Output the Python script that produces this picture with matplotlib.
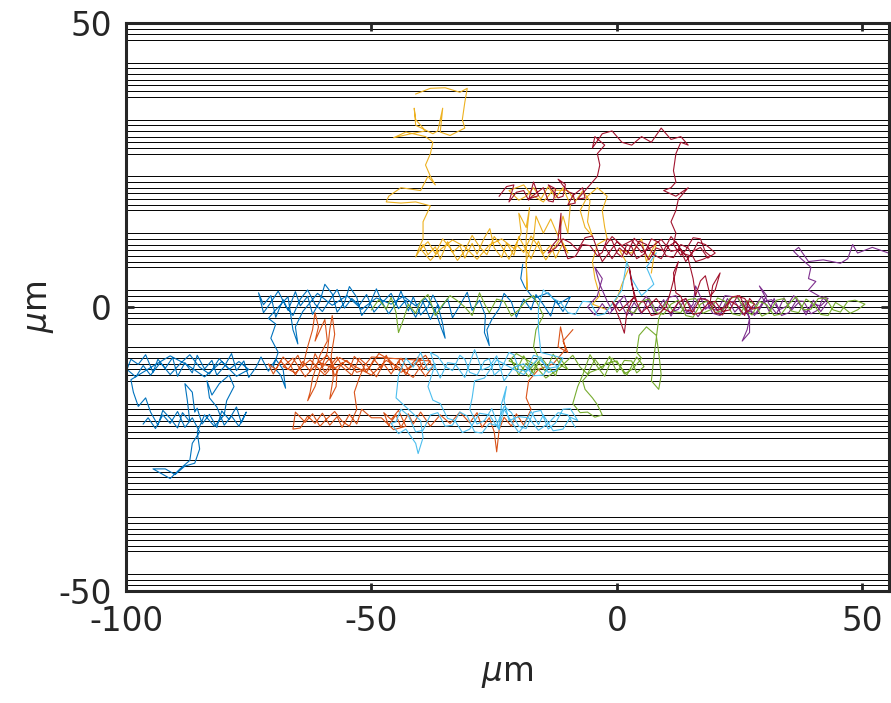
import numpy as np
import matplotlib
matplotlib.use('Agg')
import matplotlib.pyplot as plt

#%% ------------------------------------------------
#  Data (micrometres)

# horizontal guide lines: groups of 7 lines around every 10 um
line_centers = [-50, -40, -30, -20, -10, 0, 10, 20, 30, 40, 50]
line_offsets = [-3, -2, -1, 0, 1, 2, 3]

x_ticks = [-100, -50, 0, 50]
y_ticks = [-50, 0, 50]

blue_path = [
    (-19.2, 7.5), (-19.6, 5), (-18.8, 3.5), (-17, 1.5), (-14, 2.5), (-12, 0.5), (-9.5, 1.8),
    (-11, -0.8), (-12.5, 1.2), (-13.5, -1.6), (-15, 0.4), (-16.5, 2.2), (-17.5, -0.5),
    (-19, 1.4), (-20.5, -1.8), (-21.5, 0.9), (-23, 2.4), (-24, -0.3), (-25.5, -2.2),
    (-26.5, -4), (-26, -6.8), (-27, -4.5), (-26.8, -1.5), (-28, 1.2), (-29.5, -0.6),
    (-30.5, 2.6), (-32, 0.3), (-33.5, -1.9), (-34.5, 1.5), (-36, -0.4), (-37.5, 2.1),
    (-38.5, 0), (-40, -1.4), (-41.5, 1.8), (-42.5, -0.7), (-44, 2.8), (-45, 0.6),
    (-46.5, -1.2), (-48, 1.1), (-49, 3.2), (-50.5, 0.2), (-52, -1.5), (-53, 1.7),
    (-54.5, 3.6), (-55.5, 0.8), (-57, -0.9), (-58, 2.3), (-59.5, 4), (-60.5, 1),
    (-62, -1.3), (-63, 1.9), (-64.5, 0.2), (-65.5, 2.7), (-67, -0.6), (-68, 1.3),
    (-69.5, -1.8), (-70.5, 2), (-72, 0.4), (-73, 2.5), (-72, -1), (-70.5, 0.8), (-69, 2.8),
    (-67.5, 0.2), (-66, -1.5), (-64.5, 1.4), (-63, 3), (-61.5, 0.5), (-60, -0.8),
    (-58.5, 1.2), (-57, 3.1), (-55.5, -0.2), (-54, 1.5), (-52.5, 0.3), (-51, 2.2),
    (-49.5, -0.9), (-48, 0.6), (-46, 2.4), (-44.5, -0.3), (-43, 1.2), (-41, -1.8),
    (-39.5, 0.9), (-38, -2.2), (-36.5, 0.4), (-35.5, -3), (-35, -5.5), (-36, -3.2),
    (-37, -0.6), (-39, 1.5), (-41, 0.2), (-43.5, 1.9), (-46, 0.5), (-49, 1.6), (-52, -0.4),
    (-55, 2), (-58, 0.3), (-61, 2.4), (-64, -0.8), (-65.5, -3.5), (-65, -6.5), (-66, -4),
    (-67, 1.8), (-69.5, -0.5),
    (-71, -2), (-69.5, -3), (-70.5, -5.5), (-69, -8), (-70, -10.5), (-68.5, -12),
    (-67.5, -14.3), (-68, -11), (-69.5, -9.2), (-71, -11.3), (-72.5, -8.8), (-73.5, -10.6),
    (-75, -12.4), (-76, -9.5), (-77.5, -11.2), (-78.5, -8.2), (-80, -10.5), (-81.5, -12),
    (-82.5, -9.4), (-84, -10.9), (-85.5, -8.5), (-86.5, -11.6), (-88, -9.8), (-89.5, -12.2),
    (-90.5, -8.9), (-92, -10.8), (-93.5, -9.2), (-94.5, -11.5), (-96, -8.4), (-97.5, -10.1),
    (-99, -9.2), (-99.8, -11), (-98, -12.3), (-96.5, -10.3), (-95, -12), (-93, -9.8),
    (-91, -11.9), (-89, -10), (-87, -8.4), (-85, -10.6), (-83, -11.8), (-81, -9.1),
    (-79, -11), (-77, -9.6), (-75, -11), (-77.5, -12.2), (-80.5, -9.6), (-84, -12.3),
    (-87.5, -10.2), (-91, -8.6), (-94.5, -10.4), (-97.5, -12), (-99, -12.8), (-98.5, -15),
    (-97.5, -17.5), (-96, -16), (-95, -18.5), (-93.5, -20.8), (-92.5, -18.2), (-91, -19.6),
    (-89.5, -21.3), (-88.5, -18.6), (-87, -20.2), (-87.5, -16.5), (-88, -13.5),
    (-86.5, -15), (-86, -18.5), (-85.5, -17.8), (-84.5, -20.6),
    (-83, -18.9), (-81.5, -21.2), (-80.5, -18.3), (-79, -19.8), (-77.5, -17.6),
    (-76.5, -20.4), (-75.5, -18.5), (-77, -21), (-78.5, -19.2), (-80, -20.8), (-81.5, -17.6),
    (-83, -16), (-83.5, -13), (-82.5, -15.5), (-81, -13.5), (-79, -12), (-78, -14),
    (-79.5, -16.5), (-80, -19), (-82, -21), (-84, -19), (-85.5, -22), (-85, -25),
    (-86, -27.5), (-88, -28), (-90, -29.5), (-92, -28.5), (-94.5, -28.5), (-91, -30.2),
    (-89, -28.5), (-87, -27), (-86.5, -24), (-85, -22), (-86.5, -19.5), (-88, -21.2),
    (-89.5, -18.4), (-91, -20.5), (-92.5, -19), (-94, -21.4), (-95.5, -19.5), (-96.5, -20.6),
]

orange_path = [
    (-9, -4), (-11, -6), (-10, -8), (-12, -7), (-11.5, -3.5), (-10.5, -7.5), (-13, -10),
    (-16, -11), (-18, -13), (-18.5, -16), (-17.5, -18), (-19, -20.8), (-20.5, -18.8),
    (-21.5, -21), (-23, -19.4), (-24, -21.6), (-24.5, -25.5), (-25, -22), (-26, -19.5),
    (-27.5, -21.2), (-28.5, -18.6), (-30, -20.4), (-32, -18.5), (-34, -20.5), (-36, -19),
    (-38, -21), (-40, -18.5), (-41.5, -20.6), (-42.5, -18.8), (-44, -21.2), (-45, -19),
    (-46.5, -20.8), (-47.5, -18.6), (-46, -19.8), (-44.5, -18.2), (-43, -21), (-45.5, -21.6),
    (-48, -19.5), (-50, -19.5), (-52, -18), (-53, -20.6), (-54.5, -18.9), (-56, -21.2),
    (-57, -19.3), (-58.5, -20.8), (-60, -18.7), (-61.5, -20.5), (-63, -19.2), (-64.5, -21.3),
    (-66, -21.5), (-65.5, -18.5), (-63.5, -20.3), (-62, -18.8), (-60.5, -21), (-59, -19.6),
    (-57.5, -18.4), (-56, -20.1), (-54.5, -21), (-53, -18), (-53.5, -15), (-52.5, -12.5),
    (-51.5, -10.4), (-50, -8.8),
    (-38, -9.5), (-39.5, -11), (-40.5, -8.8), (-42, -10.2), (-43, -12), (-44.5, -9.5),
    (-45.5, -11.2), (-47, -8.5), (-48, -10.8), (-49.5, -9.2), (-51, -11.5), (-52, -10),
    (-53.5, -8.7), (-54.5, -11), (-56, -9.8), (-57.5, -12.2), (-58.5, -9), (-60, -10.6),
    (-61.5, -8.2), (-62.5, -11.3), (-64, -9.6), (-65.5, -12), (-66.5, -10.2), (-68, -8.8),
    (-69.5, -11), (-71, -10), (-70, -11.8), (-68.5, -9.5), (-67, -11), (-65, -8.5),
    (-64, -10.5), (-63, -7), (-62, -4), (-61.5, -1), (-60.8, -3.5), (-61.5, -6),
    (-59.5, -2.2), (-59, -6), (-60.5, -8.5), (-62, -12.5), (-62.5, -15), (-63, -16.5),
    (-61.5, -14), (-60.5, -11.2), (-59, -8), (-58.5, -4), (-58, -1.5), (-57.5, -4.8),
    (-58.2, -8.5), (-57.8, -12.5), (-58.5, -16.2), (-57.2, -14), (-57, -11),
    (-60.5, -9.8), (-59.5, -11.5), (-57, -8.8), (-56, -10.5),
    (-54, -12), (-52.5, -9), (-51, -10.2), (-49, -12.3), (-47.5, -10), (-46, -11.8),
    (-44, -9), (-42.5, -11), (-41, -9.8), (-39, -12.2), (-37.5, -10.5), (-39, -8.5),
    (-41.5, -10.3), (-44, -11.5), (-46.5, -9.2), (-48.5, -8.2), (-50.5, -10.8), (-53, -11.5),
    (-55, -9.4), (-57.5, -10.8), (-59, -8.5), (-61, -9.9), (-63.5, -12.3), (-66, -9),
    (-68, -10.5), (-65.5, -11.6), (-62.5, -9.3), (-59.5, -12), (-56.5, -8.9), (-53.5, -10.4),
    (-50, -12), (-47, -9.4), (-44.5, -10.6), (-41.5, -12.4), (-39.5, -9.8),
]

yellow_path = [
    (-41, 37.5), (-38, 38.5), (-35, 38.6), (-32, 37.8), (-30.5, 38.5), (-31, 36), (-31.5, 33),
    (-31, 31.5), (-34, 30.2), (-36, 30.8), (-35.5, 35), (-36.5, 31), (-37.5, 30.5), (-41, 32),
    (-41.3, 35), (-41, 33), (-39, 31), (-42, 30.5), (-45.5, 29.8), (-43, 30.8), (-39, 30),
    (-37.5, 29), (-38, 27), (-39, 25), (-38, 23), (-37, 21.5), (-38.5, 23), (-40, 20.5),
    (-44, 21), (-46.5, 19.5), (-47, 18.5), (-44, 18.3), (-41, 18.5), (-38, 17.8), (-39.5, 15),
    (-39.5, 12), (-40.5, 10), (-41, 8.8), (-39.5, 11), (-38.5, 9.2), (-37, 10.6), (-36, 8.4),
    (-34.5, 11.5), (-33.5, 9.6), (-32, 10.8), (-31, 8.6), (-29.5, 11.2), (-28.5, 9.3),
    (-27, 12.2), (-25.9, 13.8), (-25, 10.4), (-23.5, 8.7), (-22.5, 11.3), (-21, 9.1),
    (-20, 12.4), (-18.5, 10), (-17.5, 8.5), (-16, 11.6), (-15, 9.4), (-13.5, 10.9),
    (-12.5, 8.6), (-11, 11.2), (-10, 9.5), (-11.5, 12.1), (-13, 10.2), (-14.5, 8.3),
    (-16, 10.6), (-17.5, 12.5), (-19, 9.6), (-20.5, 11), (-22, 8.4), (-23.5, 10.7),
    (-25, 12.4), (-26.5, 9.2), (-28, 10.6), (-29.5, 12.6), (-31, 9.9), (-32.5, 8.2),
    (-34, 10.4), (-35.5, 12), (-37, 9.4), (-38.5, 11.5), (-40, 10.2), (-38, 8.2),
    (-36, 10.1), (-33.5, 11.8), (-31, 10.6), (-28.5, 8.4), (-26, 10.9), (-23.5, 12),
    (-21, 10.3), (-19.5, 13), (-20, 16.5), (-18.5, 14), (-17.8, 17.5), (-18.5, 12),
    (-18.5, 9), (-18.3, 3), (-18.5, 8), (-17, 12), (-16.5, 16), (-15, 13),
    (-13.5, 15.5), (-12, 12.5), (-11, 16), (-10, 13), (-9.5, 18), (-11, 21), (-12.5, 19.2),
    (-14, 21.2), (-15.5, 19), (-17, 21), (-18.5, 19.5), (-20, 18.8), (-22, 20.5),
    (-19, 21.5), (-17.5, 19.8), (-15, 18.5), (-13, 20.6), (-10, 20.5), (-8.5, 18.6),
    (-7, 20.4), (-5.5, 18.7), (-6, 15), (-5, 12.5), (-6.5, 14), (-7.5, 17), (-6, 19.5),
    (-4, 21), (-2, 19.5), (-3, 17), (-2.5, 14), (-2, 12),
    (-4, 11), (-5, 8), (-4.5, 5), (-3.5, 2), (-5, 0.5), (-2, -0.5), (0, 1.5), (1, 4),
    (2.5, 7), (0.5, 10), (3, 9.5), (5, 12), (6, 8), (8, 11.5), (7, 6),
]

purple_path = [
    (55.3, 9.5), (52, 10.5), (49, 9.5), (48, 11), (47, 8.5), (45.5, 7.7), (42, 8.3), (39, 8),
    (37, 10.5), (36, 9.8), (37.5, 8.5), (39.5, 7), (39, 5), (40.5, 4.5), (39, 3), (41, 2),
    (43, 1), (41.5, -0.8), (40, 1.2), (38.5, -1.4), (37, 0.8), (35.5, -0.6), (34, 1.6),
    (32.5, -1.2), (31, 0.5), (29, 3.7), (30.5, 2), (28, -1.5), (26, 1), (27, -2),
    (26.5, -4), (25.5, -6), (27, -4.5), (27, -2), (25.5, 0.6), (24, -0.9), (22.5, 1.5),
    (21, -1.3), (19.5, 0.7), (18, -0.4), (17, 1.8), (16, 3.7), (15.5, 0.5), (14, -1.2),
    (12.5, 0.9), (11, -1.6), (9.5, 1.3), (8, -0.7), (6.5, 1.6), (5, -1.2), (3.5, 0.8),
    (2, -1.5), (0.5, 1.2), (-1, -0.6), (-2, 1), (-3.5, 4), (-4.5, 7), (-3, 5), (-4, 2),
    (-6, 0), (-4.5, -1.4), (-3, 0.6), (-1.5, -1.2), (0, 0.5), (1.5, 2), (3, -1.5),
    (4.5, 0.4), (6, 1.9), (7.5, -0.9), (9, -0.3), (10.5, 1.7), (12, 2), (13.5, -0.5),
    (15, -1), (16.5, 1.4), (18, 1.5), (19.5, -1.1), (21, -1.5), (22.5, 0.9), (24, 1),
    (25.5, -1.3), (28, 0), (29.5, 1.9), (31, -0.8), (32, 1.5), (33.5, -1.5), (35, -1),
    (36.5, 1.1), (38, 1), (39.5, -1.2), (41, -0.5), (42, 1.8), (43, 1.5), (41.5, 0.2),
    (40, 0.5), (38.5, -0.9), (36, 2), (34.5, 0.1), (33, -0.5), (31.5, 1.3), (30, 1),
    (28.5, -1.2), (26, -0.5), (24.5, 1.7), (22, 2), (20.5, -0.6), (18, 0), (16.5, -1.7),
    (14, 1.5), (12.5, -0.4), (11, -1),
]

green_path = [
    (-50, -0.5), (-48.5, 1.3), (-47, -0.4), (-46, 1.7), (-45, -1), (-44.5, -4.5),
    (-43.5, -2.2), (-42.5, 0.5), (-41, -1.1), (-40, 1), (-38.5, 2.2), (-37, -1.5),
    (-35.5, 0.4), (-34, 2), (-32.5, 1.1), (-31, 0), (-29.5, -1.5), (-28, 2.5), (-27, 0.6),
    (-26, -1), (-24.5, 1.4), (-23, 1), (-21.5, -1.6), (-20, -0.5), (-18.5, 1.2),
    (-17, 2), (-15, -1.5), (-16.5, -4), (-17, -7), (-16, -9), (-17.5, -10.8),
    (-19, -8.6), (-20.5, -11.2), (-21.5, -9.3), (-20, -12), (-18.5, -9.9), (-17, -11.7),
    (-15.5, -8.8), (-14, -10.5), (-12.5, -12.1), (-11.5, -9.1), (-10, -11), (-11.5, -10.2),
    (-13, -8.3), (-14.5, -11.4), (-16, -9.6), (-18, -12.3), (-19.5, -10.4), (-22, -9.5),
    (-20.5, -8.2), (-17, -10), (-14.5, -12.5), (-12, -11), (-9, -8.5), (-7.5, -10.6),
    (-6, -11.8), (-4.5, -9.2), (-3, -10.9), (-1.5, -8.7), (0, -11.5), (1.5, -9.4),
    (3, -9.5), (4, -11.6), (5.5, -10.5), (4, -8.8), (2, -12), (0.5, -10.3), (-1, -9),
    (-2.5, -12.2), (-4, -10.5), (-5.5, -8.4), (-7, -12), (-8, -14), (-9, -17), (-7.5, -18.6),
    (-6, -18.5), (-4.5, -19.4), (-3, -19), (-4, -17.2), (-5, -16), (-6.5, -14.5),
    (-7, -13), (-5.5, -11.5), (-4, -11), (-2, -9.9), (0, -9.5), (1.5, -11.8), (3, -11),
    (4.5, -9.6), (5, -9), (4, -8), (4.5, -5), (6, -3.5), (8, -5), (8.5, -8), (9, -12),
    (8.5, -14.5), (7, -13), (7.5, -9), (8.5, -2), (10, 1), (11.5, -0.8), (13, -1),
    (14.5, 1.3), (16, 1.5), (17.5, -1.1), (19, -0.5), (20.5, 1.6), (22, 1), (23.5, -1.2),
    (25, -1.5), (26.5, 1.1), (28, 0.5), (29.5, -1.6), (31, -1), (32.5, 1.2), (34, 1.5),
    (35.5, -0.7), (37, -1), (38.5, 1.4), (40, 0.5), (41.5, -1.3), (43, -1.5), (44.5, 0.8),
    (46, 0), (47.5, -1.1), (49, -0.5), (50.5, 0.5), (48.5, 1.2), (47, 1), (45.5, -0.9),
    (44, -0.5), (42.5, 1.6), (41, 1.5), (39.5, -0.4), (38, -0.5), (36.5, 1.8), (35, 0.5),
    (33.5, -1.2), (32, -1.5), (30.5, 0.4), (29, 1), (27.5, -1.4), (26, -0.5), (24.5, 1.9),
    (23, 1.5), (21.5, -0.6), (20, -1), (18.5, 1.1), (17, 0.5), (15.5, -1.8), (14, -1.5),
    (12.5, 1.2), (11, 0.5), (9.5, -1.3), (8, -1), (6.5, 1.4), (5, 1), (3.5, -1.1), (2, -0.5),
]

lightblue_path = [
    (8, 9.5), (6, 7), (7.5, 4), (5, 2), (3, 5), (2, 8), (1, 3), (-1, 0.5), (-2.5, -1.2),
    (-4, -1.5), (-5.5, 0.9), (-7, 1), (-8.5, -1.3), (-10, -1), (-11.5, 0.8), (-13, 1.5),
    (-15, 3), (-16, 0), (-16, -4), (-15.5, -8), (-11, -9), (-12.5, -11.2), (-14, -11.5),
    (-15.5, -8.9), (-17, -8.5), (-18.5, -11.3), (-20, -11), (-21, -8.4), (-22, -8),
    (-23.5, -10.8), (-25, -12), (-26, -9.1), (-27, -9.5), (-28.5, -12), (-30, -11.5),
    (-31, -9.2), (-32, -8.5), (-33.5, -11.2), (-35, -10.5), (-36.5, -8.7), (-38, -8),
    (-37, -10.6), (-36, -12.5), (-34.5, -9.8), (-33, -10), (-31, -12.4), (-29, -7.5),
    (-27.5, -11.1), (-26, -10.5), (-24.5, -8.6), (-23, -13), (-21, -10.6), (-19, -10),
    (-17, -12.1), (-15, -12), (-13.5, -9.6), (-12, -10.5), (-14, -10.8), (-16, -9),
    (-19, -11.9), (-22, -10.5), (-24.5, -9.3), (-27, -12.5), (-29, -13), (-29.5, -16),
    (-30, -18), (-28.5, -20.6), (-27, -20), (-25.5, -17.9), (-24, -21.3), (-23, -18),
    (-21.5, -20.2), (-20, -22.1), (-19, -21), (-17.5, -18.4), (-16, -20.7), (-15, -19),
    (-13, -21.8), (-11, -21.5), (-9.5, -19.4), (-8, -20), (-9.5, -17.9), (-11, -18),
    (-12.5, -20.4), (-14, -21.5), (-15.5, -18.2), (-17, -18.5), (-18.5, -21.4), (-20, -21),
    (-21.5, -18.6), (-23, -17.5), (-24.5, -20.9), (-26, -20.5), (-27.5, -22.2), (-29, -22),
    (-30.5, -19.2), (-32, -18.5), (-33.5, -20.8), (-35, -21), (-36.5, -18.6), (-38, -19),
    (-39.5, -21.7), (-41, -22), (-42.5, -19.1), (-44, -18), (-45, -20.2), (-46, -20.5),
    (-44.5, -22.3), (-43, -21.5), (-41, -24), (-40.5, -25.8), (-39.5, -23), (-40, -20),
    (-42, -18.4), (-45, -16), (-44.5, -12), (-43, -9), (-41.5, -10.6), (-40, -8),
    (-38.5, -11.2), (-37, -10), (-38.5, -14), (-37.5, -16.4), (-36, -17), (-34.5, -19.6),
    (-33, -20), (-31.5, -22.1), (-30, -21.5), (-28, -18.7), (-26, -19), (-24, -21.6),
    (-23.5, -17), (-22.5, -14), (-23, -16.5), (-22, -20),
    (-20, -19.3), (-18, -19.5), (-16, -21.7), (-14, -20.5), (-12, -18.6),
    (-10, -19), (-8.5, -21.2),
]

red_path = [
    (-24, 19.5), (-22.5, 21.2), (-21, 21.5), (-22, 18.5), (-20.5, 20.2), (-19, 20.5),
    (-18, 18.8), (-17, 22), (-16, 19.6), (-18, 19), (-15, 21), (-14, 18.7), (-13, 18.5),
    (-12.5, 20.8), (-14, 21.5), (-12, 19.2), (-11, 19.5), (-10.5, 21.6), (-12, 22.5),
    (-10, 20.3), (-9, 20), (-8.5, 18.3), (-10, 18), (-9, 19.6), (-7, 21), (-6.5, 19.2),
    (-8, 19), (-6, 21), (-4, 23), (-3.5, 25), (-4, 27), (-2.5, 28.5), (-4.5, 30), (-5, 28),
    (-3, 30.5), (-1, 31), (1, 29), (3, 28.5), (5, 30), (7, 29), (9, 31.5), (11, 29.5),
    (13, 30), (14.5, 28.5), (13, 29), (12, 27), (11.5, 24), (12, 22), (11, 21), (9.5, 20.5),
    (12, 19.5), (14.5, 21), (12.5, 19), (12, 17), (11, 15), (12, 13), (11.5, 11),
    (13, 9.1), (14, 10), (15.5, 12.2), (17, 12), (18, 9.7), (19, 9), (17.5, 8.4), (16, 8),
    (14.5, 10.4), (13, 11), (11.5, 8.7), (10, 9), (8.5, 11.4), (7, 12), (5.5, 9.3),
    (4, 8.5), (3, 10.6), (2, 11), (1, 8.8), (0, 9.5), (-1, 11.7), (-2, 12), (-3, 9.6),
    (-4, 9), (-5.5, 10.8), (-7, 11), (-8.5, 8.9), (-10, 8.5), (-11.5, 12), (-11.4, 16.5),
    (-12, 12), (-13, 11), (-14, 9.5), (-12.5, 10.4), (-11, 12), (-9.5, 11.3), (-8, 10),
    (-6.5, 12.2), (-5, 12.5), (-4, 10.1), (-3, 8), (-1.5, 9.7), (0, 11.5), (1.5, 10.3),
    (3, 9), (4.5, 11.6), (6, 11), (7.5, 9.2), (9, 8.5), (10.5, 10.7), (12, 11.5),
    (13.5, 9.4), (15, 9), (16.5, 11.4), (18, 11), (19, 10.3), (20, 9.5), (18.5, 8.6),
    (17, 10.5), (15.5, 9.8), (14, 8), (12.5, 10.9), (11, 12.4), (9.5, 9.9), (8, 10.4),
    (6.5, 8.3), (5, 10.8), (3.5, 12.1), (2, 9.2), (0.5, 10.4), (-1, 8.5), (-2.5, 10.6),
    (-1, 12.4), (1, 10.8), (3, 11.7), (5, 9.6), (7, 10.5), (9, 11.9), (11, 9.8),
    (13, 10.2), (14.5, 8.5), (15.5, 5), (16, 2), (17, 4.6), (18, 5.5), (19, 1.9), (20, 3),
    (21, 6), (19.5, 3.8), (19, 1), (20.5, -0.6), (22, 0), (23.5, 1.8), (25, 2),
    (26.5, -0.9), (28, 0.5), (27, 1.5), (26, -1.5), (24.5, 0.3), (23, 1), (21.5, -1.4),
    (20, -1), (18.5, 1.2), (17, 1.5), (15.5, -0.8), (14, -0.5), (13, 1.9), (12, 2.5),
    (11.5, 6), (12.5, 8), (11, 3), (10, 0), (8.5, -1.2), (7, -1.5), (5.5, 0.9), (4, 1),
    (3, 4), (2.5, 7), (3.5, 2), (2, -1), (1.5, -4.6), (0.5, -2), (-1, 1), (0.5, -0.7),
    (2, 0.5), (3.5, 1.7), (5, -1), (6.5, 0.2), (8, 1.5), (9.5, -0.3), (11, -1),
    (12.5, 0.8), (14, 1.5), (15.5, -1.3), (17, -1), (18.5, 0.6), (20, 1), (21.5, -0.8),
    (23, -0.5), (24.5, 1.9), (26, 1.5), (27.5, -0.4), (29, 0),
]

path_colors = ['#0072BD', '#D95319', '#EDB120', '#7E2F8E', '#77AC30', '#4DBEEE', '#A2142F']
paths = [blue_path, orange_path, yellow_path, purple_path, green_path, lightblue_path, red_path]


#%% ------------------------------------------------
#  Plot
plt.rcParams['mathtext.fontset'] = 'dejavusans'
text_col = '#262626'

fig = plt.figure(figsize=(8.91, 7.03), dpi=100)
ax = fig.add_axes([126/891, 112/703, 763/891, 568/703])

# horizontal guide lines
for c in line_centers:
    for o in line_offsets:
        ax.axhline(c + o, color='black', linewidth=0.7, zorder=1)

# trajectories
for path, col in zip(paths, path_colors):
    xy = np.array(path)
    ax.plot(xy[:, 0], xy[:, 1], color=col, linewidth=0.8, zorder=2)

ax.set_xlim(-100, 55.4)
ax.set_ylim(-50, 50)
ax.set_xticks(x_ticks)
ax.set_yticks(y_ticks)
ax.set_xticklabels([str(t) for t in x_ticks])
ax.set_yticklabels([str(t) for t in y_ticks])

ax.tick_params(direction='in', length=6, width=2, top=True, right=True,
               labelsize=23.5, colors=text_col, pad=10)
for s in ax.spines.values():
    s.set_linewidth(2.2)
    s.set_color(text_col)

ax.set_xlabel(r'$\mu$m', fontsize=23.5, color=text_col, labelpad=14)
ax.set_ylabel(r'$\mu$m', fontsize=23.5, color=text_col, labelpad=2)

fig.savefig('out.png', dpi=100)
